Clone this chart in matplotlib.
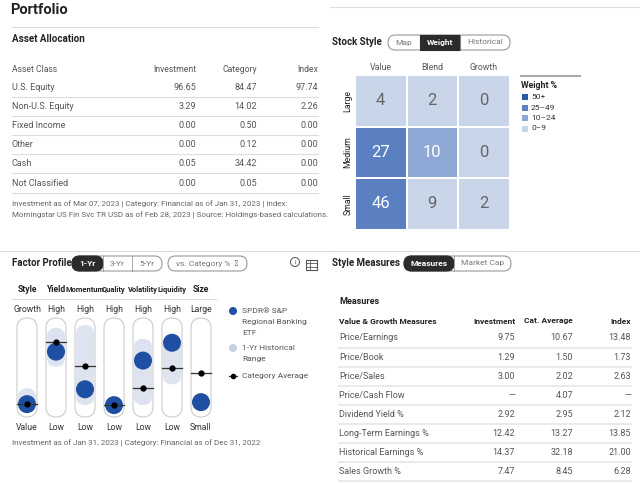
import matplotlib
matplotlib.use("Agg")
import matplotlib.pyplot as plt
from matplotlib.patches import FancyBboxPatch, Rectangle, Circle
import numpy as np

# ---------------- data ----------------
asset_classes = ["U.S. Equity", "Non-U.S. Equity", "Fixed Income", "Other", "Cash", "Not Classified"]
asset_investment = ["96.65", "3.29", "0.00", "0.00", "0.05", "0.00"]
asset_category = ["84.47", "14.02", "0.50", "0.12", "34.42", "0.05"]
asset_index = ["97.74", "2.26", "0.00", "0.00", "0.00", "0.00"]

style_cols = ["Value", "Blend", "Growth"]
style_rows = ["Large", "Medium", "Small"]
style_weights = [[4, 2, 0], [27, 10, 0], [46, 9, 2]]
weight_bins = ["50+", "25\u201349", "10\u201324", "0\u20139"]

factors = ["Style", "Yield", "Momentum", "Quality", "Volatility", "Liquidity", "Size"]
factor_top = ["Growth", "High", "High", "High", "High", "High", "Large"]
factor_bottom = ["Value", "Low", "Low", "Low", "Low", "Low", "Small"]
fund_score = [13, 66, 28, 12, 57, 75, 15]
cat_avg = [13, 76, 52, 12, 29, 50, 44]
hist_low = [9, 51, 12, np.nan, 12, 33, np.nan]
hist_high = [29, 90, 93, np.nan, 79, 83, np.nan]

measures = ["Price/Earnings", "Price/Book", "Price/Sales", "Price/Cash Flow", "Dividend Yield %",
            "Long-Term Earnings %", "Historical Earnings %", "Sales Growth %"]
meas_investment = ["9.75", "1.29", "3.00", "\u2014", "2.92", "12.42", "14.37", "7.47"]
meas_cat = ["10.67", "1.50", "2.02", "4.07", "2.95", "13.27", "32.18", "8.45"]
meas_index = ["13.48", "1.73", "2.63", "\u2014", "2.12", "13.85", "21.00", "6.28"]

# ---------------- styles ----------------
plt.rcParams["font.family"] = "Roboto"
DARK = "#222222"
GREY = "#555555"
LINE = "#dddddd"
BLUE = "#1f4fa3"
PALE = "#dde4f0"
bin_colors = ["#2a5aa8", "#5a80c2", "#8ea8d6", "#c9d6ea"]

fig = plt.figure(figsize=(6.4, 4.83), dpi=100)
ax = fig.add_axes([0, 0, 1, 1])
ax.set_xlim(0, 640)
ax.set_ylim(483, 0)
ax.axis("off")

def T(x, y, s, size=6.3, color=GREY, ha="left", weight="normal", **kw):
    ax.text(x, y, s, fontsize=size, color=color, ha=ha, va="center", fontweight=weight, **kw)

def hline(x0, x1, y, color=LINE, lw=0.8):
    ax.plot([x0, x1], [y, y], color=color, lw=lw)

def pill(x, y, widths, labels, active):
    total = sum(widths)
    ax.add_patch(FancyBboxPatch((x, y), total, 15, boxstyle="round,pad=0,rounding_size=7.5",
                                fc="white", ec="#999999", lw=0.8))
    cx = x
    for i, (w, lab) in enumerate(zip(widths, labels)):
        if i == active:
            ax.add_patch(FancyBboxPatch((cx, y), w, 15,
                                        boxstyle="round,pad=0,rounding_size=7.5" if i in (0, len(widths)-1) else "square,pad=0",
                                        fc="#2b2b2b", ec="#2b2b2b", lw=0.8))
        elif i > 0:
            ax.plot([cx, cx], [y, y + 15], color="#999999", lw=0.6)
        T(cx + w / 2, y + 7.5, lab, size=6, ha="center",
          color="white" if i == active else "#777777", weight="bold" if i == active else "normal")
        cx += w

# ---------------- header ----------------
T(10, 10, "Portfolio", size=10.5, color=DARK, weight="bold")
hline(12, 318, 27)
hline(330, 640, 7)

# ---------------- asset allocation ----------------
T(12, 39, "Asset Allocation", size=7, color=DARK, weight="bold")
T(12, 69, "Asset Class", size=6.2)
for x, h in zip([196, 257, 318], ["Investment", "Category", "Index"]):
    T(x, 69, h, size=6.2, ha="right")
for i, name in enumerate(asset_classes):
    y = 87 + i * 19.2
    T(12, y, name, size=6.5)
    T(196, y, asset_investment[i], size=6.5, ha="right")
    T(257, y, asset_category[i], size=6.5, ha="right")
    T(318, y, asset_index[i], size=6.5, ha="right")
    hline(12, 318, y + 9.5)
T(12, 204, "Investment as of Mar 07, 2023 | Category: Financial as of Jan 31, 2023 | Index:", size=5.8, color="#666666")
T(12, 215, "Morningstar US Fin Svc TR USD as of Feb 28, 2023 | Source: Holdings-based calculations.", size=5.8, color="#666666")
hline(0, 330, 251)
hline(330, 640, 251)

# ---------------- stock style ----------------
T(332, 42, "Stock Style", size=7, color=DARK, weight="bold")
pill(388, 35, [32, 40, 50], ["Map", "Weight", "Historical"], 1)

def bin_color(v):
    if v >= 50: return bin_colors[0]
    if v >= 25: return bin_colors[1]
    if v >= 10: return bin_colors[2]
    return bin_colors[3]

cell = 51.5
x0, y0 = 355, 75
for r, rname in enumerate(style_rows):
    for c, cname in enumerate(style_cols):
        v = style_weights[r][c]
        ax.add_patch(Rectangle((x0 + c * cell + 1, y0 + r * cell + 1), cell - 2, cell - 2,
                               fc=bin_color(v), ec="none"))
        T(x0 + c * cell + cell / 2, y0 + r * cell + cell / 2, str(v), size=12,
          color="white" if v >= 10 else "#666666", ha="center")
    T(348, y0 + r * cell + cell / 2, rname, size=6.3, color=DARK, ha="center", rotation=90)
for c, cname in enumerate(style_cols):
    T(x0 + c * cell + cell / 2, 68, cname, size=6.3, ha="center")
hline(521, 580, 76, color="#aaaaaa", lw=1.5)
T(521, 85, "Weight %", size=6.3, color=DARK, weight="bold")
for i, lab in enumerate(weight_bins):
    y = 97 + i * 10.5
    ax.add_patch(Rectangle((522, y - 3), 6, 6, fc=bin_colors[i], ec="none"))
    T(531, y, lab, size=6, color="#333333")

# ---------------- factor profile ----------------
T(12, 263, "Factor Profile", size=7, color=DARK, weight="bold")
pill(72, 256, [31, 29, 30], ["1-Yr", "3-Yr", "5-Yr"], 0)
ax.add_patch(FancyBboxPatch((168, 256), 79, 15, boxstyle="round,pad=0,rounding_size=7.5",
                            fc="white", ec="#999999", lw=0.8))
T(207, 263.5, "vs. Category %  \u2228", size=6, ha="center", color="#777777")
ax.add_patch(Circle((295, 262), 4.5, fc="white", ec="#555555", lw=0.7))
T(295, 262, "i", size=4.5, ha="center", color="#333333")
ax.add_patch(Rectangle((306, 260), 11, 10, fc="white", ec="#555555", lw=0.8))
for yy in (263.3, 266.6):
    hline(306, 317, yy, color="#555555", lw=0.6)
ax.plot([309.5, 309.5], [260, 270], color="#555555", lw=0.6)

top, bot = 318, 417
def fy(v):
    return bot - v / 100 * (bot - top)

hline(12, 216, 299)
for i, f in enumerate(factors):
    x = 27 + i * 29
    T(x, 290, f, size=5.4 if len(f) > 6 else 6.2, color=DARK, weight="bold", ha="center")
    T(x, 309, factor_top[i], size=6.2, color="#333333", ha="center")
    T(x, 428, factor_bottom[i], size=6.2, color="#333333", ha="center")
    ax.add_patch(FancyBboxPatch((x - 10, top), 20, bot - top, boxstyle="round,pad=0,rounding_size=10",
                                fc="white", ec="#cccccc", lw=0.8))
    if not np.isnan(hist_low[i]):
        lo, hi = fy(hist_low[i]), fy(hist_high[i])
        ax.add_patch(FancyBboxPatch((x - 9, hi), 18, lo - hi, boxstyle="round,pad=0,rounding_size=9",
                                    fc=PALE, ec="none"))
    ax.add_patch(Circle((x, fy(fund_score[i])), 9, fc=BLUE, ec="none", zorder=3))
    ya = fy(cat_avg[i])
    ax.plot([x - 10, x + 10], [ya, ya], color="#333333", lw=0.9, zorder=4)
    ax.plot([x], [ya], "o", ms=3.5, color="black", zorder=5)

ax.add_patch(Circle((233, 311), 4, fc=BLUE, ec="none"))
T(242, 311, "SPDR\u00ae S&P", size=6, color="#555555")
T(242, 322, "Regional Banking", size=6, color="#555555")
T(242, 333, "ETF", size=6, color="#555555")
ax.add_patch(Circle((233, 348), 4, fc="#c5d1e6", ec="none"))
T(242, 348, "1-Yr Historical", size=6, color="#555555")
T(242, 359, "Range", size=6, color="#555555")
ax.plot([229, 237], [376, 376], color="#333333", lw=0.9)
ax.plot([233], [376], "o", ms=3, color="black")
T(242, 376, "Category Average", size=6, color="#555555")
T(12, 443, "Investment as of Jan 31, 2023 | Category: Financial as of Dec 31, 2022", size=5.8, color="#666666")

# ---------------- style measures ----------------
T(332, 263, "Style Measures", size=7, color=DARK, weight="bold")
pill(404, 256, [50, 57], ["Measures", "Market Cap"], 0)
T(339, 302, "Measures", size=6.5, color=DARK, weight="bold")
T(339, 321, "Value & Growth Measures", size=6, color=DARK, weight="bold")
for x, h in zip([515, 573, 631], ["Investment", "Cat. Average", "Index"]):
    T(x, 321, h, size=6, color=DARK, weight="bold", ha="right")
for i, name in enumerate(measures):
    y = 338 + i * 19.1
    T(339, y, name, size=6.5)
    T(515, y, meas_investment[i], size=6.5, ha="right")
    T(573, y, meas_cat[i], size=6.5, ha="right")
    T(631, y, meas_index[i], size=6.5, ha="right")
    hline(339, 631, y + 9.5, color="#e6e6e6", lw=1.2)

fig.savefig("out.png", dpi=100)
